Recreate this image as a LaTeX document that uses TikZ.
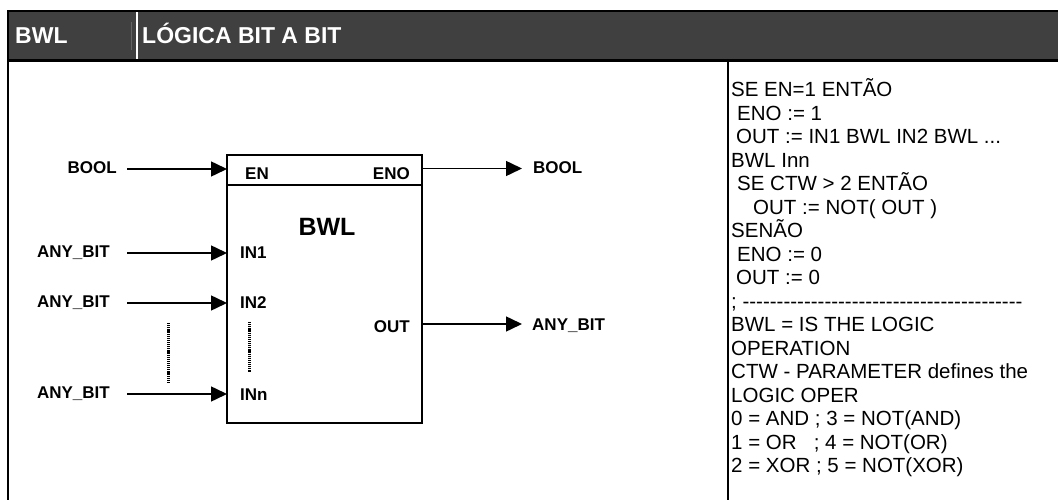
\documentclass[tikz,border=0pt]{standalone}
\usepackage{fontspec}
\setmainfont{Liberation Sans}
\usetikzlibrary{arrows.meta}

\definecolor{hdrgray}{RGB}{64,64,64}
\definecolor{hdrline}{RGB}{100,100,100}

\tikzset{
  frame/.style={line width=2pt},
  hdrtxt/.style={text=white, font=\fontsize{23}{27}\selectfont\bfseries, inner sep=0pt, anchor=base west},
  pinlbl/.style={font=\fontsize{17}{20}\selectfont\bfseries, inner sep=0pt},
  blkname/.style={font=\fontsize{25}{30}\selectfont\bfseries, inner sep=0pt, anchor=base},
  blk/.style={draw, line width=2pt, inner sep=0pt, outer sep=0pt, minimum width=195pt, minimum height=268pt},
  sig/.style={line width=1.5pt, -{Triangle[length=16pt,width=15pt]}},
  dotln/.style={line width=3pt, dash pattern=on 1.2pt off 0.9pt},
  code/.style={font=\fontsize{20.5}{24}\selectfont, inner sep=0pt, anchor=base west}
}

\newcommand\hy{\mbox{-}}

\begin{document}
\begin{tikzpicture}[x=1pt,y=1pt,yscale=-1]
  \useasboundingbox (0,0) rectangle (1058,500);

  % header band and frame
  \fill[hdrgray] (8,11) rectangle (1058,60);
  \draw[hdrline, line width=0.6pt] (131.5,22) -- (131.5,50);
  \draw[white, line width=1.5pt] (137,12) -- (137,59);
  \draw[frame] (1058,11) -- (8,11) -- (8,500);
  \draw[frame, line width=2.5pt] (8,60.5) -- (1058,60.5);
  \draw[frame] (728,60.5) -- (728,500);

  \node[hdrtxt] (hname) at (15,43.5) {BWL};
  \node[hdrtxt] (htitle) at (142,43.5) {LÓGICA BIT A BIT};

  % function block
  \node[blk, anchor=north west] (bwl) at (227,155) {};
  \draw[line width=2pt] ([yshift=30pt]bwl.north west) -- ([yshift=30pt]bwl.north east);
  \node[blkname] (bname) at (327,235) {BWL};

  % pins on the block
  \coordinate (pEN) at (227,169);
  \coordinate (pIN1) at (227,253);
  \coordinate (pIN2) at (227,303);
  \coordinate (pINn) at (227,394);
  \coordinate (pENO) at (422,168.5);
  \coordinate (pOUT) at (422,324);

  % pin names inside
  \node[pinlbl, anchor=base west] (nEN) at (245,179) {EN};
  \node[pinlbl, anchor=base east] (nENO) at (410,179) {ENO};
  \node[pinlbl, anchor=base west] (nIN1) at (240,258.5) {IN1};
  \node[pinlbl, anchor=base west] (nIN2) at (240,308.5) {IN2};
  \node[pinlbl, anchor=base west] (nINn) at (240,400) {INn};
  \node[pinlbl, anchor=base east] (nOUT) at (410,332) {OUT};

  % data types outside
  \node[pinlbl, anchor=base east] (iBOOL) at (117,174) {BOOL};
  \node[pinlbl, anchor=base east] (iIN1) at (110,257.5) {ANY\_BIT};
  \node[pinlbl, anchor=base east] (iIN2) at (110,307.5) {ANY\_BIT};
  \node[pinlbl, anchor=base east] (iINn) at (110,398.5) {ANY\_BIT};
  \node[pinlbl, anchor=base west] (oBOOL) at (533,174) {BOOL};
  \node[pinlbl, anchor=base west] (oOUT) at (532,330) {ANY\_BIT};

  \draw[sig] ([xshift=10pt]iBOOL.east |- pEN) -- (pEN);
  \draw[sig] ([xshift=17pt]iIN1.east |- pIN1) -- (pIN1);
  \draw[sig] ([xshift=17pt]iIN2.east |- pIN2) -- (pIN2);
  \draw[sig] ([xshift=17pt]iINn.east |- pINn) -- (pINn);
  \draw[sig] (pENO) -- ([xshift=-11pt]oBOOL.west |- pENO);
  \draw[sig] (pOUT) -- ([xshift=-10pt]oOUT.west |- pOUT);

  % dotted continuation marks
  \draw[dotln] (168,323) -- (168,382);
  \draw[dotln] (249,322) -- (249,372);

  % description text
  \node[code] (c1) at (731,96.7) {SE EN=1 ENTÃO};
  \node[code] (c2) at (737,120.2) {ENO := 1};
  \node[code] (c3) at (736,143.7) {OUT := IN1 BWL IN2 BWL ...};
  \node[code] (c4) at (731,167.2) {BWL Inn};
  \node[code] (c5) at (737,190.7) {SE CTW > 2 ENTÃO};
  \node[code] (c6) at (753,214.2) {OUT := NOT( OUT )};
  \node[code] (c7) at (731,237.7) {SENÃO};
  \node[code] (c8) at (737,261.2) {ENO := 0};
  \node[code] (c9) at (736,284.7) {OUT := 0};
  \node[code] (c10) at (731,308.2) {; \foreach \k in {1,...,41}{\hy}};
  \node[code] (c11) at (731,331.7) {BWL = IS THE LOGIC};
  \node[code] (c12) at (731,355.2) {OPERATION};
  \node[code] (c13) at (731,378.7) {CTW - PARAMETER defines the};
  \node[code] (c14) at (731,402.2) {LOGIC OPER};
  \node[code] (c15) at (731,425.7) {0 = AND ; 3 = NOT(AND)};
  \node[code] (c16) at (731,449.2) {1 = OR~~ ; 4 = NOT(OR)};
  \node[code] (c17) at (731,472.7) {2 = XOR ; 5 = NOT(XOR)};
\end{tikzpicture}
\end{document}
